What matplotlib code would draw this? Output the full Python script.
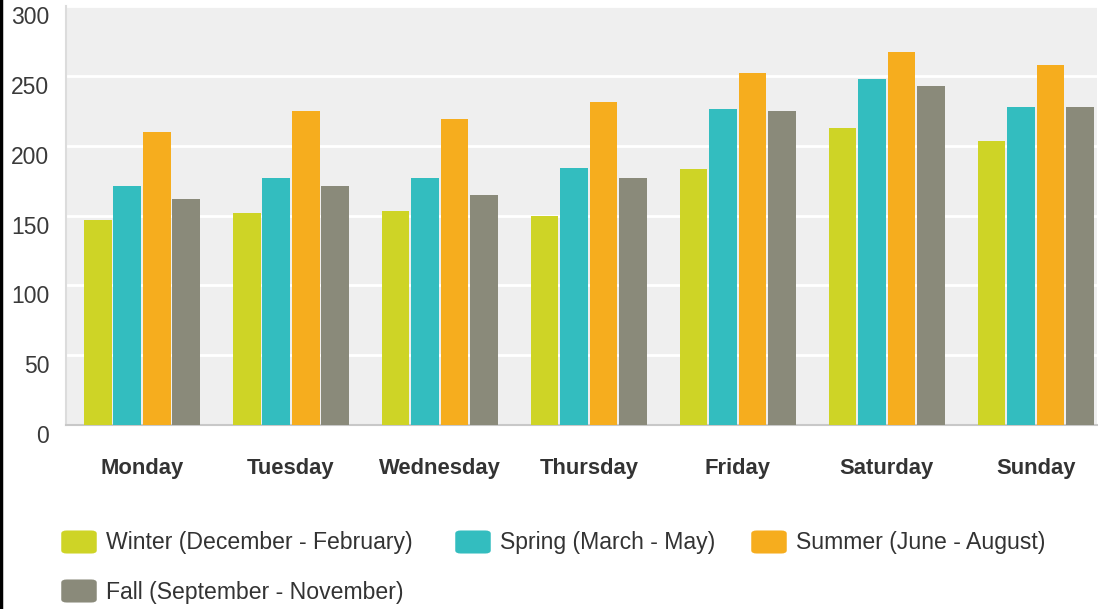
import matplotlib
matplotlib.use('Agg')
import matplotlib.pyplot as plt
import matplotlib.transforms as mtransforms
from matplotlib.patches import FancyBboxPatch
from matplotlib.lines import Line2D
import numpy as np

days = ['Monday', 'Tuesday', 'Wednesday', 'Thursday', 'Friday', 'Saturday', 'Sunday']
winter = [147, 152, 153, 150, 183, 213, 203]
spring = [171, 177, 177, 184, 226, 248, 228]
summer = [210, 225, 219, 231, 252, 267, 258]
fall = [162, 171, 165, 177, 225, 243, 228]
series_names = ['Winter (December - February)', 'Spring (March - May)',
                'Summer (June - August)', 'Fall (September - November)']
y_ticks = [0, 50, 100, 150, 200, 250, 300]

colors = ['#ced426', '#33bdbf', '#f6ad1e', '#8a8a7a']

plt.rcParams['font.family'] = ['Liberation Sans', 'DejaVu Sans']

W, H = 1098, 609
fig = plt.figure(figsize=(W / 100, H / 100), dpi=100)
ax = fig.add_axes([66 / W, (H - 425) / H, 1031 / W, 419 / H])
ax.set_facecolor('#efefef')

x = np.arange(len(days))
slot = 0.198
bw = 0.185
for i, (vals, col) in enumerate(zip([winter, spring, summer, fall], colors)):
    ax.bar(x + (i - 1.5) * slot, vals, width=bw, color=col, zorder=3)

ax.set_ylim(0, 300)
ax.set_xlim(-0.51, 6.41)
ax.set_yticks(y_ticks)
ax.yaxis.grid(True, color='white', linewidth=2, zorder=1)
ax.set_axisbelow(True)
for s in ['top', 'right']:
    ax.spines[s].set_visible(False)
ax.spines['left'].set_color('#dcdcdc')
ax.spines['left'].set_linewidth(1.5)
ax.spines['bottom'].set_color('#c8c8c8')
ax.spines['bottom'].set_linewidth(1.5)
ax.tick_params(axis='both', length=0)
ax.tick_params(axis='y', labelsize=16.5, labelcolor='#3a3a3a', pad=12)
ax.set_xticks(x)
ax.set_xticklabels(days, fontsize=15.8, fontweight='bold', color='#333333')
ax.tick_params(axis='x', pad=24)
off = mtransforms.ScaledTranslation(0, -9 / 100, fig.dpi_scale_trans)
for lab in ax.get_yticklabels():
    lab.set_transform(lab.get_transform() + off)

# legend drawn by hand
legend_pos = [(62, 542), (456, 542), (752, 542), (62, 591)]
for (px, py), name, col in zip(legend_pos, series_names, colors):
    sq = FancyBboxPatch(((px + 2) / W, (H - py - 10) / H), 30 / W, 20 / H,
                        boxstyle='round,pad=0.0025,rounding_size=0.005',
                        transform=fig.transFigure, facecolor=col, edgecolor='none')
    fig.patches.append(sq)
    fig.text((px + 44) / W, (H - py - 1) / H, name, fontsize=16.6, color='#333333',
             va='center', ha='left')

# black border on the left edge
fig.add_artist(Line2D([1 / W, 1 / W], [0, 1], color='black', linewidth=2.5,
                      transform=fig.transFigure))

fig.savefig('out.png', dpi=100)
